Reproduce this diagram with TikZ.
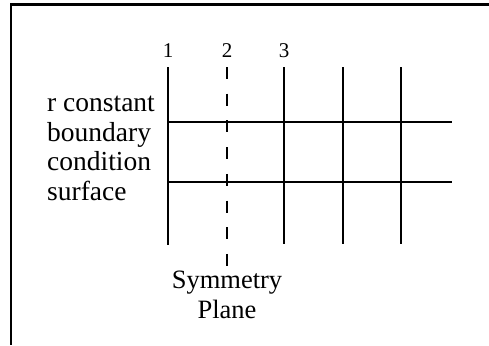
\documentclass[tikz,border=0pt]{standalone}
\usepackage{fontspec}
\setmainfont{Liberation Serif}
\usetikzlibrary{positioning}

\begin{document}
\begin{tikzpicture}[x=1pt,y=-1pt]
\tikzset{
  frameline/.style={draw=black,line width=2.6pt},
  gridline/.style={draw=black,line width=1.4pt},
  symline/.style={gridline,dash pattern=on 12pt off 14.7pt},
  colnum/.style={font=\fontsize{21}{21}\selectfont,inner sep=0pt,anchor=base},
  sidetext/.style={font=\fontsize{27.5}{29.5}\selectfont,align=left,inner sep=0pt},
  planetext/.style={font=\fontsize{26.5}{30}\selectfont,align=center,inner sep=0pt}
}
\useasboundingbox (0,0) rectangle (489,345);
% frame (top and left only)
\coordinate (f_tr) at (489,4.5);
\coordinate (f_tl) at (11,4.5);
\coordinate (f_bl) at (11,345);
\draw[frameline] (f_tr) -- (f_tl) -- (f_bl);
% vertical grid lines
\coordinate (c_1_t) at (168,67);
\coordinate (c_1_b) at (168,245);
\coordinate (c_2_t) at (227,67);
\coordinate (c_2_b) at (227,268);
\coordinate (c_3_t) at (284,67);
\coordinate (c_3_b) at (284,244);
\coordinate (c_4_t) at (343,67);
\coordinate (c_4_b) at (343,244);
\coordinate (c_5_t) at (401,67);
\coordinate (c_5_b) at (401,244);
\draw[gridline] (c_1_t) -- (c_1_b);
\draw[symline] (c_2_t) -- (c_2_b);
\draw[gridline] (c_3_t) -- (c_3_b);
\draw[gridline] (c_4_t) -- (c_4_b);
\draw[gridline] (c_5_t) -- (c_5_b);
% horizontal grid lines
\coordinate (r_1_l) at (168,122);
\coordinate (r_1_r) at (452,122);
\coordinate (r_2_l) at (168,182);
\coordinate (r_2_r) at (452,182);
\draw[gridline] (r_1_l) -- (r_1_r);
\draw[gridline] (r_2_l) -- (r_2_r);
% labels
\node[colnum] (n_1) at (168,57) {1};
\node[colnum] (n_2) at (227,57) {2};
\node[colnum] (n_3) at (284,57) {3};
\node[sidetext,anchor=base west] (n_surf) at (47,200) {r constant\\boundary\\condition\\surface};
\node[planetext,anchor=base] (n_plane) at (227,318) {Symmetry\\Plane};
\end{tikzpicture}
\end{document}
